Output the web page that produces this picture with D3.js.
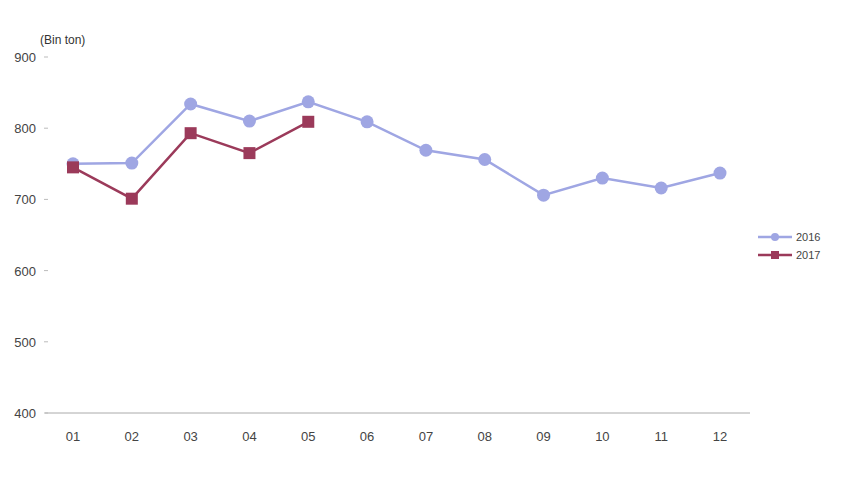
<!DOCTYPE html><html><head><meta charset="utf-8"><script src="https://cdn.jsdelivr.net/npm/d3@7"></script>
<style>body{margin:0;background:#fff}</style></head><body><svg id="c" width="860" height="480"></svg>
<script>
const months=["01","02","03","04","05","06","07","08","09","10","11","12"];
const s2016=[750,751,834,810,837,809,769,756,706,730,716,737];
const s2017=[745,701,793,765,809];
const yTicks=[400,500,600,700,800,900];
const svg=d3.select("#c");
const x=d3.scalePoint().domain(months).range([73,720]);
const y=d3.scaleLinear().domain([400,900]).range([413,57]);
const f="Liberation Sans, Arial, sans-serif";
svg.append("line").attr("x1",45).attr("x2",750).attr("y1",413).attr("y2",413).attr("stroke","#aaa");
months.forEach(m=>{svg.append("text").attr("x",x(m)).attr("y",441).attr("text-anchor","middle").attr("font-family",f).attr("font-size",13).attr("fill","#444").text(m);});
yTicks.forEach(t=>{svg.append("text").attr("x",36).attr("y",y(t)+5).attr("text-anchor","end").attr("font-family",f).attr("font-size",13).attr("fill","#444").text(t);
 svg.append("line").attr("x1",44).attr("x2",48).attr("y1",y(t)).attr("y2",y(t)).attr("stroke","#bbb");});
svg.append("text").attr("x",40).attr("y",44).attr("font-family",f).attr("font-size",12).attr("fill","#333").text("(Bin ton)");
const line=d3.line().x((d,i)=>x(months[i])).y(d=>y(d));
svg.append("path").attr("d",line(s2016)).attr("fill","none").attr("stroke","#9fa6e3").attr("stroke-width",2.5);
s2016.forEach((d,i)=>svg.append("circle").attr("cx",x(months[i])).attr("cy",y(d)).attr("r",6.5).attr("fill","#9fa6e3"));
svg.append("path").attr("d",line(s2017)).attr("fill","none").attr("stroke","#9b3a5a").attr("stroke-width",2.5);
s2017.forEach((d,i)=>svg.append("rect").attr("x",x(months[i])-6).attr("y",y(d)-6).attr("width",12).attr("height",12).attr("fill","#9b3a5a"));
const lg=[["2016","#9fa6e3","c"],["2017","#9b3a5a","r"]];
lg.forEach((l,i)=>{const yy=237+i*18;
 svg.append("line").attr("x1",758).attr("x2",792).attr("y1",yy).attr("y2",yy).attr("stroke",l[1]).attr("stroke-width",2.5);
 if(l[2]=="c")svg.append("circle").attr("cx",775).attr("cy",yy).attr("r",4).attr("fill",l[1]);
 else svg.append("rect").attr("x",771).attr("y",yy-4).attr("width",8).attr("height",8).attr("fill",l[1]);
 svg.append("text").attr("x",796).attr("y",yy+4).attr("font-family",f).attr("font-size",11).attr("fill","#444").text(l[0]);});
</script></body></html>
